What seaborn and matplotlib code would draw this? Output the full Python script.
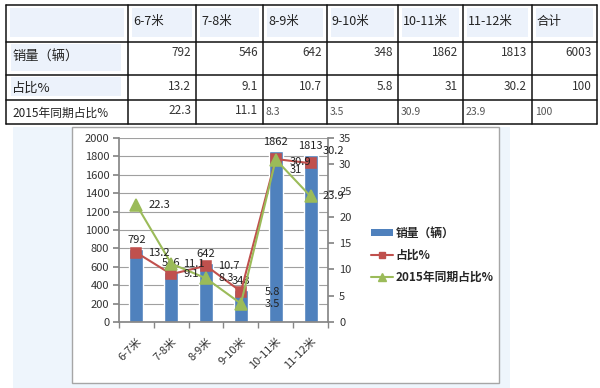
import matplotlib
matplotlib.use('Agg')
import matplotlib.pyplot as plt
import seaborn as sns
from matplotlib.patches import Rectangle, Patch
from matplotlib.lines import Line2D

# ---------------- data ----------------
categories = ['6-7米', '7-8米', '8-9米', '9-10米', '10-11米', '11-12米']
sales = [792, 546, 642, 348, 1862, 1813]
share = [13.2, 9.1, 10.7, 5.8, 31, 30.2]
share_2015 = [22.3, 11.1, 8.3, 3.5, 30.9, 23.9]
total_label = '合计'
total_sales = 6003
total_share = 100
total_share_2015 = 100
series_names = ['销量（辆）', '占比%', '2015年同期占比%']
left_ticks = list(range(0, 2001, 200))
right_ticks = list(range(0, 36, 5))

# ---------------- style ----------------
sns.set_theme(style='white')
plt.rcParams['font.family'] = ['Noto Sans CJK SC', 'DejaVu Sans']

BLUE = '#4F81BD'
RED = '#C0504D'
GREEN = '#9BBB59'
TXT = '#222222'

W, H = 600, 388
fig = plt.figure(figsize=(6, 3.88), dpi=100)
fig.patch.set_facecolor('white')

# background overlay axes in pixel coordinates
bg = fig.add_axes([0, 0, 1, 1])
bg.set_xlim(0, W)
bg.set_ylim(H, 0)
bg.axis('off')

# chart area backgrounds
bg.add_patch(Rectangle((13, 127), 497, 261, facecolor='#EEF5FC', edgecolor='none'))
bg.add_patch(Rectangle((72, 127), 427, 256, facecolor='white', edgecolor='#A6A6A6', lw=1.0))

# ---------------- table ----------------
col_x = [6, 128, 196, 263, 327, 398, 463, 532, 597]
row_y = [5, 42, 75, 100, 124]
cell_fill = '#ECF2FB'
for j in range(len(col_x) - 1):
    bg.add_patch(Rectangle((col_x[j] + 4, row_y[0] + 3), col_x[j + 1] - col_x[j] - 8,
                           row_y[1] - row_y[0] - 8, facecolor=cell_fill, edgecolor='none'))
for r in (1, 2):
    bg.add_patch(Rectangle((col_x[0] + 5, row_y[r] + 2), col_x[1] - col_x[0] - 12,
                           row_y[r + 1] - row_y[r] - 6, facecolor=cell_fill, edgecolor='none'))
for x in col_x:
    bg.plot([x, x], [row_y[0], row_y[-1]], color='#111111', lw=1.1)
for y in row_y:
    bg.plot([col_x[0], col_x[-1]], [y, y], color='#111111', lw=1.1)

header = categories + [total_label]
for j, t in enumerate(header):
    bg.text(col_x[j + 1] + 5, 21, t, ha='left', va='center', fontsize=9, color=TXT)

bg.text(12, 57, series_names[0], ha='left', va='center', fontsize=9.5, color=TXT)
bg.text(12, 88, series_names[1], ha='left', va='center', fontsize=9.5, color=TXT)
bg.text(12, 113, series_names[2], ha='left', va='center', fontsize=8.5, color=TXT)

row_sales = sales + [total_sales]
row_share = share + [total_share]
row_share15 = share_2015 + [total_share_2015]
for j in range(len(header)):
    right = col_x[j + 2] - 5
    bg.text(right, 52, f'{row_sales[j]:g}', ha='right', va='center', fontsize=8.5, color='#333333')
    bg.text(right, 86, f'{row_share[j]:g}', ha='right', va='center', fontsize=8.5, color='#333333')
    if j < 2:
        bg.text(right, 110, f'{row_share15[j]:g}', ha='right', va='center', fontsize=8.5, color='#333333')
    else:
        bg.text(col_x[j + 1] + 3, 112, f'{row_share15[j]:g}', ha='left', va='center',
                fontsize=7.5, color='#555555')

# ---------------- chart ----------------
ax = fig.add_axes([119 / W, (H - 322) / H, 209 / W, 184 / H])
ax.set_facecolor('none')
sns.barplot(x=categories, y=sales, color=BLUE, saturation=1, width=0.4, ax=ax, zorder=2)
ax.set_ylim(0, 2000)
ax.set_yticks(left_ticks)
ax.yaxis.grid(True, color='#A0A0A0', lw=0.8)
ax.set_axisbelow(True)
ax.bar_label(ax.containers[0], labels=[f'{v:g}' for v in sales], padding=3,
             fontsize=8, color=TXT)

ax2 = ax.twinx()
sns.pointplot(x=categories, y=share, color=RED, markers='s', errorbar=None, ax=ax2,
              markersize=7, linewidth=1.5)
sns.pointplot(x=categories, y=share_2015, color=GREEN, markers='^', errorbar=None, ax=ax2,
              markersize=8, linewidth=1.5)
ax2.set_ylim(0, 35)
ax2.set_yticks(right_ticks)
ax2.grid(False)

# data labels for lines (offsets in pixels: dx, dy-up)
red_off = [(12, 0), (12, 0), (12, 0), (24, 0), (14, -11), (12, 12)]
green_off = [(12, 0), (12, 0), (12, 0), (24, 0), (14, -2), (12, 0)]
for i, v in enumerate(share):
    ax2.annotate(f'{v:g}', (i, v), xytext=red_off[i], textcoords='offset pixels',
                 ha='left', va='center', fontsize=8, color=TXT)
for i, v in enumerate(share_2015):
    ax2.annotate(f'{v:g}', (i, v), xytext=green_off[i], textcoords='offset pixels',
                 ha='left', va='center', fontsize=8, color=TXT)

for a in (ax, ax2):
    a.set_xlim(-0.5, len(categories) - 0.5)
    a.set_xlabel('')
    a.set_ylabel('')

spine_c = '#868686'
ax.spines['top'].set_visible(False)
ax.spines['right'].set_visible(False)
ax.spines['left'].set_color(spine_c)
ax.spines['bottom'].set_color(spine_c)
for s in ('top', 'left', 'bottom'):
    ax2.spines[s].set_visible(False)
ax2.spines['right'].set_color(spine_c)

ax.set_xticks(range(len(categories)))
ax.set_xticklabels(categories, rotation=45, ha='right', rotation_mode='anchor')
ax.set_xticks([i - 0.5 for i in range(len(categories) + 1)], minor=True)
ax.tick_params(axis='x', which='major', length=0, pad=10, labelsize=8, labelcolor='#333333')
ax.tick_params(axis='x', which='minor', bottom=True, length=4, color=spine_c, direction='out')
ax.tick_params(axis='y', left=True, length=4, color=spine_c, direction='out', pad=3,
               labelsize=8, labelcolor='#333333')
ax2.tick_params(axis='y', right=True, length=4, color=spine_c, direction='out', pad=4,
                labelsize=8, labelcolor='#333333')
ax2.tick_params(axis='x', bottom=False, labelbottom=False)

# legend
handles = [Patch(facecolor=BLUE, edgecolor='none'),
           Line2D([], [], color=RED, marker='s', markersize=5, lw=1.5),
           Line2D([], [], color=GREEN, marker='^', markersize=6, lw=1.5)]
leg = fig.legend(handles, series_names, loc='upper left',
                 bbox_to_anchor=(366 / W, 1 - 222 / H), frameon=False,
                 prop={'size': 8.5, 'weight': 'bold'}, handlelength=1.9,
                 handleheight=0.5, handletextpad=0.2, labelspacing=0.75, borderaxespad=0)

fig.savefig('out.png', dpi=100)
